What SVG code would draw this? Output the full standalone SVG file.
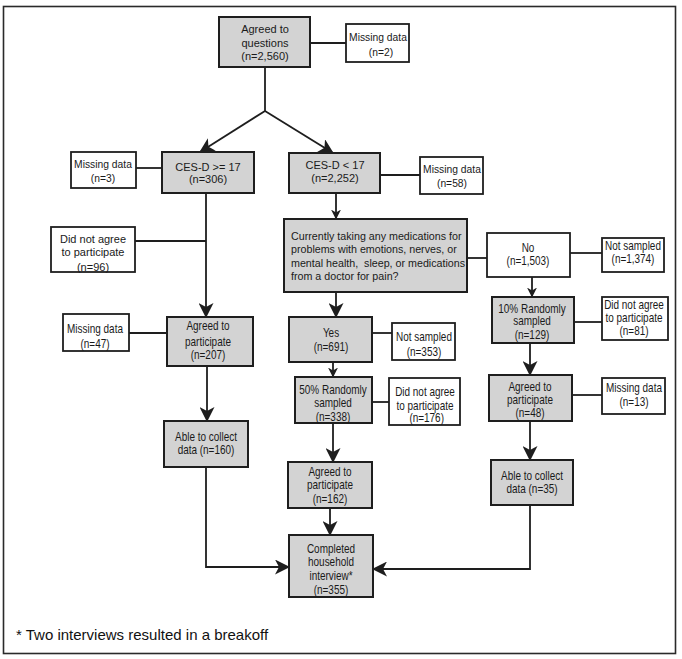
<svg xmlns="http://www.w3.org/2000/svg" width="682" height="659" viewBox="0 0 682 659">
<style>
.bg{fill:#fff}
.frame{fill:none;stroke:#2a2a2a;stroke-width:1.6}
.sh{fill:#d3d3d3;stroke:#1e1e1e;stroke-width:2}
.wh{fill:#fff;stroke:#1e1e1e;stroke-width:1.8}
.t{font-family:"Liberation Sans",Arial,sans-serif;font-size:11px;fill:#1a1a1a;text-anchor:middle}
.ts{font-family:"Liberation Sans",Arial,sans-serif;font-size:10.3px;fill:#1a1a1a;text-anchor:middle}
.tl{font-family:"Liberation Sans",Arial,sans-serif;font-size:10.7px;fill:#1a1a1a}
.m{font-family:"Liberation Sans",Arial,sans-serif;font-size:12px;fill:#1a1a1a;text-anchor:middle}
.fn{font-family:"Liberation Sans",Arial,sans-serif;font-size:15px;fill:#111}
.ln{fill:none;stroke:#1e1e1e;stroke-width:1.8}
.ar{fill:none;stroke:#1e1e1e;stroke-width:1.8;marker-end:url(#big)}
.as{fill:none;stroke:#1e1e1e;stroke-width:1.8;marker-end:url(#small)}
</style>
<defs>
<marker id="big" markerUnits="userSpaceOnUse" markerWidth="15" markerHeight="15" viewBox="0 0 15 15" refX="14" refY="7.5" orient="auto">
<path d="M0,0 L15,7.5 L0,15 L4,7.5 z" fill="#1e1e1e"/>
</marker>
<marker id="small" markerUnits="userSpaceOnUse" markerWidth="10" markerHeight="10" viewBox="0 0 10 10" refX="9.5" refY="5" orient="auto">
<path d="M0,0 L10,5 L0,10 L3,5 z" fill="#1e1e1e"/>
</marker>
</defs>
<rect class="bg" x="0" y="0" width="682" height="659"/>
<rect class="frame" x="3.5" y="6.5" width="672" height="647"/>

<g id="connectors">
<line class="ln" x1="310" y1="43" x2="346" y2="43"/>
<line class="ln" x1="265" y1="67" x2="265" y2="111"/>
<line class="ar" x1="265" y1="111" x2="200" y2="152"/>
<line class="ar" x1="265" y1="111" x2="333" y2="153"/>
<line class="ln" x1="136" y1="168" x2="162" y2="168"/>
<line class="ln" x1="380" y1="175" x2="420" y2="175"/>
<line class="ar" x1="206" y1="193" x2="206" y2="317"/>
<line class="ln" x1="135" y1="241" x2="206" y2="241"/>
<line class="as" x1="336" y1="193" x2="336" y2="219"/>
<line class="ln" x1="467" y1="258" x2="487" y2="258"/>
<line class="ln" x1="570" y1="253" x2="602" y2="253"/>
<line class="as" x1="532" y1="277" x2="532" y2="297"/>
<line class="ln" x1="574" y1="322" x2="602" y2="322"/>
<line class="ar" x1="336" y1="292" x2="336" y2="317"/>
<line class="ln" x1="372" y1="333" x2="392" y2="333"/>
<line class="as" x1="333" y1="362" x2="333" y2="377"/>
<line class="ln" x1="372" y1="402" x2="389" y2="402"/>
<line class="ln" x1="129" y1="333" x2="167" y2="333"/>
<line class="ar" x1="207" y1="366" x2="207" y2="421"/>
<line class="ar" x1="530" y1="343" x2="530" y2="375"/>
<line class="ln" x1="572" y1="395" x2="602" y2="395"/>
<line class="ar" x1="530" y1="421" x2="530" y2="460"/>
<line class="ar" x1="333" y1="423" x2="333" y2="462"/>
<line class="ar" x1="330" y1="508" x2="330" y2="535"/>
<polyline class="ar" points="206,467 206,567 289,567"/>
<polyline class="ar" points="530,505 530,569 373,569"/>
</g>

<g id="n-agreed-questions">
<rect class="sh" x="219" y="17" width="91" height="50"/>
<text class="t" x="265" y="33">Agreed to</text>
<text class="t" x="265" y="47">questions</text>
<text class="t" x="265" y="60">(n=2,560)</text>
</g>
<g id="n-missing-2">
<rect class="wh" x="346" y="24" width="63" height="38"/>
<text class="ts" x="378" y="41">Missing data</text>
<text class="ts" x="381" y="56">(n=2)</text>
</g>
<g id="n-cesd-hi">
<rect class="sh" x="162" y="152" width="92" height="41"/>
<text class="t" x="208" y="171">CES-D &gt;= 17</text>
<text class="t" x="208" y="183">(n=306)</text>
</g>
<g id="n-missing-3">
<rect class="wh" x="71" y="152" width="65" height="36"/>
<text class="ts" x="103" y="168">Missing data</text>
<text class="ts" x="103" y="182">(n=3)</text>
</g>
<g id="n-cesd-lo">
<rect class="sh" x="289" y="153" width="91" height="40"/>
<text class="t" x="335" y="169">CES-D &lt; 17</text>
<text class="t" x="335" y="182">(n=2,252)</text>
</g>
<g id="n-missing-58">
<rect class="wh" x="420" y="157" width="63" height="37"/>
<text class="ts" x="452" y="173">Missing data</text>
<text class="ts" x="452" y="187">(n=58)</text>
</g>
<g id="n-notagree-96">
<rect class="wh" x="51" y="227" width="84" height="45"/>
<text class="t" x="93" y="243">Did not agree</text>
<text class="t" x="93" y="256">to participate</text>
<text class="t" x="93" y="271">(n=96)</text>
</g>
<g id="n-meds">
<rect class="sh" x="284" y="219" width="183" height="73"/>
<text class="tl" x="291" y="240">Currently taking any medications for</text>
<text class="tl" x="291" y="253">problems with emotions, nerves, or</text>
<text class="tl" x="291" y="267" xml:space="preserve">mental health,  sleep, or medications</text>
<text class="tl" x="291" y="280">from a doctor for pain?</text>
</g>
<g id="n-no">
<rect class="wh" x="487" y="233" width="83" height="44"/>
<g transform="translate(528,0) scale(0.83,1)">
<text class="m" x="0" y="252">No</text>
<text class="m" x="0" y="265">(n=1,503)</text>
</g>
</g>
<g id="n-notsampled-1374">
<rect class="wh" x="602" y="238" width="62" height="34"/>
<g transform="translate(633,0) scale(0.83,1)">
<text class="m" x="0" y="250">Not sampled</text>
<text class="m" x="0" y="263">(n=1,374)</text>
</g>
</g>
<g id="n-10pct">
<rect class="sh" x="492" y="297" width="82" height="46"/>
<g transform="translate(532,0) scale(0.83,1)">
<text class="m" x="0" y="313">10% Randomly</text>
<text class="m" x="0" y="325">sampled</text>
<text class="m" x="0" y="339">(n=129)</text>
</g>
</g>
<g id="n-notagree-81">
<rect class="wh" x="602" y="297" width="66" height="43"/>
<g transform="translate(634,0) scale(0.83,1)">
<text class="m" x="0" y="309">Did not agree</text>
<text class="m" x="0" y="322">to participate</text>
<text class="m" x="0" y="335">(n=81)</text>
</g>
</g>
<g id="n-agreed-48">
<rect class="sh" x="489" y="375" width="83" height="46"/>
<g transform="translate(530,0) scale(0.83,1)">
<text class="m" x="0" y="391">Agreed to</text>
<text class="m" x="0" y="404">participate</text>
<text class="m" x="0" y="417">(n=48)</text>
</g>
</g>
<g id="n-missing-13">
<rect class="wh" x="602" y="378" width="63" height="36"/>
<g transform="translate(634,0) scale(0.83,1)">
<text class="m" x="0" y="392">Missing data</text>
<text class="m" x="0" y="406">(n=13)</text>
</g>
</g>
<g id="n-able-35">
<rect class="sh" x="491" y="460" width="82" height="45"/>
<g transform="translate(532,0) scale(0.83,1)">
<text class="m" x="0" y="480">Able to collect</text>
<text class="m" x="0" y="493">data (n=35)</text>
</g>
</g>
<g id="n-yes">
<rect class="sh" x="289" y="317" width="83" height="45"/>
<g transform="translate(331,0) scale(0.83,1)">
<text class="m" x="0" y="337">Yes</text>
<text class="m" x="0" y="351">(n=691)</text>
</g>
</g>
<g id="n-notsampled-353">
<rect class="wh" x="392" y="323" width="63" height="37"/>
<g transform="translate(424,0) scale(0.83,1)">
<text class="m" x="0" y="341">Not sampled</text>
<text class="m" x="0" y="356">(n=353)</text>
</g>
</g>
<g id="n-50pct">
<rect class="sh" x="295" y="377" width="77" height="46"/>
<g transform="translate(333,0) scale(0.83,1)">
<text class="m" x="0" y="394">50% Randomly</text>
<text class="m" x="0" y="407">sampled</text>
<text class="m" x="0" y="421">(n=338)</text>
</g>
</g>
<g id="n-notagree-176">
<rect class="wh" x="389" y="378" width="71" height="47"/>
<g transform="translate(425,0) scale(0.83,1)">
<text class="m" x="0" y="396">Did not agree</text>
<text class="m" x="0" y="410">to participate</text>
<text class="m" x="2" y="422">(n=176)</text>
</g>
</g>
<g id="n-agreed-162">
<rect class="sh" x="288" y="462" width="84" height="46"/>
<g transform="translate(330,0) scale(0.83,1)">
<text class="m" x="0" y="476">Agreed to</text>
<text class="m" x="0" y="489">participate</text>
<text class="m" x="0" y="503">(n=162)</text>
</g>
</g>
<g id="n-completed">
<rect class="sh" x="289" y="535" width="84" height="62"/>
<g transform="translate(331,0) scale(0.83,1)">
<text class="m" x="0" y="553">Completed</text>
<text class="m" x="0" y="566">household</text>
<text class="m" x="0" y="580">interview*</text>
<text class="m" x="0" y="594">(n=355)</text>
</g>
</g>
<g id="n-missing-47">
<rect class="wh" x="63" y="314" width="66" height="37"/>
<g transform="translate(95,0) scale(0.83,1)">
<text class="m" x="0" y="333">Missing data</text>
<text class="m" x="0" y="348">(n=47)</text>
</g>
</g>
<g id="n-agreed-207">
<rect class="sh" x="167" y="317" width="86" height="49"/>
<g transform="translate(208,0) scale(0.83,1)">
<text class="m" x="0" y="330">Agreed to</text>
<text class="m" x="0" y="346">participate</text>
<text class="m" x="0" y="359">(n=207)</text>
</g>
</g>
<g id="n-able-160">
<rect class="sh" x="164" y="421" width="84" height="46"/>
<g transform="translate(206,0) scale(0.83,1)">
<text class="m" x="0" y="441">Able to collect</text>
<text class="m" x="0" y="454">data (n=160)</text>
</g>
</g>
<text class="fn" x="16" y="640">* Two interviews resulted in a breakoff</text>
</svg>
